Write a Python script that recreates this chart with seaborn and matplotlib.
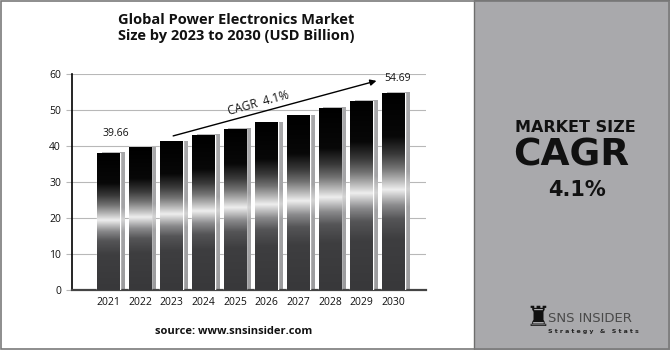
import numpy as np
import pandas as pd
import matplotlib
matplotlib.use("Agg")
import matplotlib.pyplot as plt
import seaborn as sns
from matplotlib.colors import LinearSegmentedColormap
from matplotlib.patches import Rectangle

years = ["2021", "2022", "2023", "2024", "2025", "2026", "2027", "2028", "2029", "2030"]
values = [38.0, 39.66, 41.3, 43.0, 44.8, 46.6, 48.5, 50.5, 52.6, 54.69]
y_ticks = [0, 10, 20, 30, 40, 50, 60]
title = "Global Power Electronics Market\nSize by 2023 to 2030 (USD Billion)"
cagr_label = "CAGR  4.1%"
start_label = "39.66"
end_label = "54.69"
source = "source: www.snsinsider.com"

df = pd.DataFrame({"year": years, "value": values})

sns.set_theme(style="white")
plt.rcParams["font.family"] = ["Open Sans", "DejaVu Sans"]

fig = plt.figure(figsize=(6.7, 3.5), dpi=100)
fig.patch.set_facecolor("white")

# right gray panel
fig.patches.append(Rectangle((474 / 670, 0), 1 - 474 / 670, 1, transform=fig.transFigure,
                             facecolor="#a9a9ac", edgecolor="#6e6e6e", lw=1.0, zorder=0))
# outer border
fig.patches.append(Rectangle((0.001, 0.003), 0.997, 0.994, transform=fig.transFigure,
                             facecolor="none", edgecolor="#7a7a7a", lw=1.2, zorder=5))

ax = fig.add_axes([72 / 670, 60 / 350, 354 / 670, 216 / 350])
ax.set_facecolor("none")

sns.barplot(data=df, x="year", y="value", ax=ax, width=0.72, color="black",
            saturation=1, zorder=3)

bar_cmap = LinearSegmentedColormap.from_list("metal", [
    (0.00, "#38383a"), (0.26, "#3e3e40"), (0.36, "#555557"), (0.43, "#8a8a8c"),
    (0.51, "#eeeeee"), (0.56, "#b4b4b4"), (0.62, "#727272"), (0.69, "#3a3a3a"),
    (0.78, "#080808"), (1.00, "#000000")])
shadow_cmap = LinearSegmentedColormap.from_list("shadow", [
    (0.00, "#9c9c9e"), (0.42, "#a4a4a6"), (0.51, "#d4d4d4"), (0.60, "#a4a4a6"),
    (1.00, "#a8a8aa")])
grad = np.linspace(0, 1, 512).reshape(-1, 1)

for p in list(ax.patches):
    x0, w, h = p.get_x(), p.get_width(), p.get_height()
    sh = Rectangle((x0 + 0.15, 0), w, h + 0.2, facecolor="none", edgecolor="none", zorder=2)
    ax.add_patch(sh)
    im = ax.imshow(grad, cmap=shadow_cmap, origin="lower", aspect="auto",
                   interpolation="bilinear",
                   extent=[x0 + 0.15, x0 + 0.15 + w, 0, h + 0.2], zorder=2)
    im.set_clip_path(sh)
    im2 = ax.imshow(grad, cmap=bar_cmap, origin="lower", aspect="auto",
                    interpolation="bilinear",
                    extent=[x0, x0 + w, 0, h], zorder=3.5)
    im2.set_clip_path(p)

ax.set_xlim(-1.15, 10.03)
ax.set_ylim(0, 60)
ax.set_yticks(y_ticks)
ax.set_xlabel("")
ax.set_ylabel("")
ax.grid(axis="y", color="#b8b8b8", lw=0.8, zorder=0)
ax.grid(axis="x", visible=False)
for s in ["top", "right"]:
    ax.spines[s].set_visible(False)
ax.spines["left"].set_color("black")
ax.spines["left"].set_linewidth(1.2)
ax.spines["bottom"].set_color("#444444")
ax.spines["bottom"].set_linewidth(1.6)
ax.tick_params(axis="y", length=4, color="#b8b8b8", width=0.8, pad=4, labelsize=7.5,
               labelcolor="#111111", left=True)
ax.tick_params(axis="x", length=0, pad=5, labelsize=7.5, labelcolor="#111111")

ax.annotate("", xy=(8.55, 58.3), xytext=(1.96, 42.6),
            arrowprops=dict(arrowstyle="-|>", color="black", lw=1.0, mutation_scale=9),
            zorder=6)
ax.text(4.75, 51.8, cagr_label, rotation=15.5, ha="center", va="center", fontsize=8.5,
        color="#111111", zorder=6)
ax.text(0.22, 43.6, start_label, ha="center", va="center", fontsize=7.5, color="#111111")
ax.text(9.12, 58.7, end_label, ha="center", va="center", fontsize=7.5, color="#111111")

fig.text(236.5 / 670, 1 - 28 / 350, title, ha="center", va="center", fontsize=10.5,
         fontweight="bold", color="#111111", linespacing=1.25)
fig.text(234 / 670, 1 - 332 / 350, source, ha="center", va="center", fontsize=8,
         fontweight="bold", color="#111111")

fig.text(575 / 670, 1 - 128 / 350, "MARKET SIZE", ha="center", va="center", fontsize=11.5,
         fontweight="heavy", family="DejaVu Sans", color="#111111")
fig.text(571 / 670, 1 - 156 / 350, "CAGR", ha="center", va="center", fontsize=27,
         fontweight="heavy", family="DejaVu Sans", color="#111111")
fig.text(577 / 670, 1 - 190 / 350, "4.1%", ha="center", va="center", fontsize=15,
         fontweight="heavy", family="DejaVu Sans", color="#111111")

fig.text(538 / 670, 1 - 318 / 350, "\u265c", ha="center", va="center", fontsize=20,
         family="DejaVu Sans", color="#111111")
fig.text(548 / 670, 1 - 319 / 350, "SNS INSIDER", ha="left", va="center", fontsize=9.5,
         family="DejaVu Sans", color="#4a4a4a")
fig.text(548 / 670, 1 - 332 / 350, "S t r a t e g y   &   S t a t s", ha="left", va="center",
         fontsize=4.5, fontweight="bold", family="DejaVu Sans", color="#222222")

fig.savefig("out.png", dpi=100)
